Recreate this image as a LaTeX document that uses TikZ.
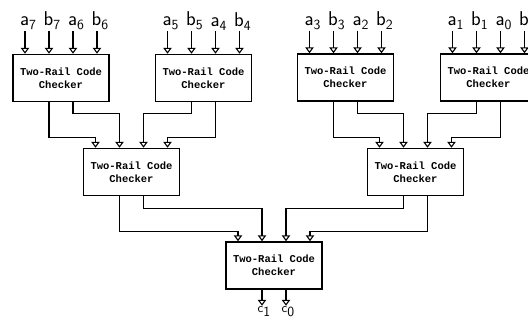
\documentclass[tikz,border=0pt]{standalone}
\usepackage{fontspec}
\usepackage{tikz}
\usetikzlibrary{arrows.meta,calc}
\newfontfamily\plotfont{Liberation Mono}

\newcommand{\sig}[2]{\sffamily #1\raisebox{-4pt}{\fontsize{14}{14}\selectfont #2}}

\tikzset{
  checker/.style={draw, line width=1.5pt, minimum width=96pt, minimum height=47pt,
    inner sep=0pt, align=center, font=\plotfont\bfseries\fontsize{10.5}{13}\selectfont},
  wire/.style={line width=1.1pt, -{Triangle[open,length=6pt,width=8.5pt]}},
  lbl/.style={anchor=south, inner sep=1pt, xshift=3pt, font=\fontsize{20}{20}\selectfont}
}

\begin{document}
\begin{tikzpicture}[x=1pt,y=-1pt]
  \useasboundingbox (0,0) rectangle (528,333);

  % checker tree
  \node[checker] (t1) at (61,78) {Two-Rail Code\\Checker};
  \node[checker] (t2) at (203.5,78) {Two-Rail Code\\Checker};
  \node[checker] (t3) at (345.5,77.5) {Two-Rail Code\\Checker};
  \node[checker] (t4) at (488.5,77.5) {Two-Rail Code\\Checker};
  \node[checker] (m1) at (131.5,172) {Two-Rail Code\\Checker};
  \node[checker] (m2) at (415.5,172) {Two-Rail Code\\Checker};
  \node[checker] (bt) at (274,265.5) {Two-Rail Code\\Checker};

  % inputs
  \foreach \b/\i/\n in {t1/7/6, t2/5/4, t3/3/2, t4/1/0} {
    \foreach \k/\s/\d in {-36/a/\i, -12/b/\i, 12/a/\n, 36/b/\n} {
      \coordinate (\b in\k) at ($(\b.north)+(\k,-22.5)$);
      \node[lbl] at (\b in\k) {\sig{\s}{\d}};
      \draw[wire] (\b in\k) -- (\b in\k |- \b.north);
    }
  }

  % first level to second level
  \draw[wire] ($(t1.south)+(-12,0)$) -- ++(0,35.5) -| ($(m1.north)+(-36,0)$);
  \draw[wire] ($(t1.south)+(12,0)$) -- ++(0,11.5) -| ($(m1.north)+(-12,0)$);
  \draw[wire] ($(t2.south)+(-12,0)$) -- ++(0,11.5) -| ($(m1.north)+(12,0)$);
  \draw[wire] ($(t2.south)+(12,0)$) -- ++(0,35.5) -| ($(m1.north)+(36,0)$);
  \draw[wire] ($(t3.south)+(-12,0)$) -- ++(0,35.5) -| ($(m2.north)+(-36,0)$);
  \draw[wire] ($(t3.south)+(12,0)$) -- ++(0,11.5) -| ($(m2.north)+(-12,0)$);
  \draw[wire] ($(t4.south)+(-12,0)$) -- ++(0,11.5) -| ($(m2.north)+(12,0)$);
  \draw[wire] ($(t4.south)+(12,0)$) -- ++(0,35.5) -| ($(m2.north)+(36,0)$);

  % second level to last
  \draw[wire] ($(m1.south)+(-12,0)$) -- ++(0,35.5) -| ($(bt.north)+(-36,0)$);
  \draw[wire] ($(m1.south)+(12,0)$) -- ++(0,12.5) -| ($(bt.north)+(-12,0)$);
  \draw[wire] ($(m2.south)+(-12,0)$) -- ++(0,12.5) -| ($(bt.north)+(12,0)$);
  \draw[wire] ($(m2.south)+(12,0)$) -- ++(0,35.5) -| ($(bt.north)+(36,0)$);

  % outputs
  \coordinate (c1) at ($(bt.south)+(-12,16)$);
  \coordinate (c0) at ($(bt.south)+(12,16)$);
  \draw[wire] (c1 |- bt.south) -- (c1);
  \draw[wire] (c0 |- bt.south) -- (c0);
  \node[anchor=north, inner sep=1pt, xshift=2pt, font=\fontsize{13}{13}\selectfont] at (c1) {\sig{c}{1}};
  \node[anchor=north, inner sep=1pt, xshift=2pt, font=\fontsize{13}{13}\selectfont] at (c0) {\sig{c}{0}};
\end{tikzpicture}
\end{document}
